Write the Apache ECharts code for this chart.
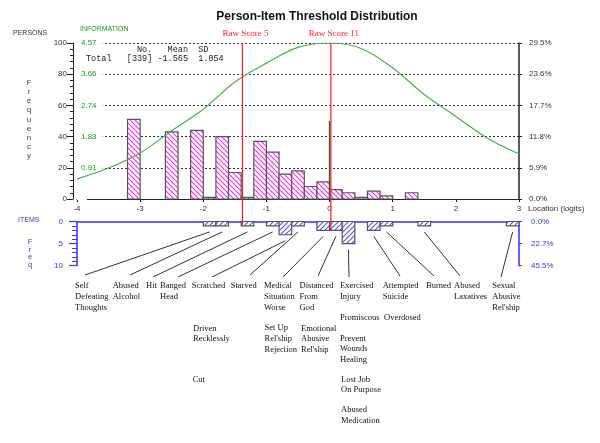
<!DOCTYPE html>
<html><head><meta charset="utf-8">
<script src="https://cdn.jsdelivr.net/npm/echarts@6/dist/echarts.min.js"></script>
<style>html,body{margin:0;padding:0;background:#fff}#c{width:600px;height:443px}</style>
</head><body><div id="c"></div>
<script>
// ---------- data ----------
const personBinCenters = [-3.1,-2.5,-2.1,-1.9,-1.7,-1.5,-1.3,-1.1,-0.9,-0.7,-0.5,-0.3,-0.1,0.1,0.3,0.5,0.7,0.9,1.3];
const personCounts     = [51,43,44,1,40,17,1,37,30,16,18,8,11,6,4,1,5,2,4];
const binWidth = 0.2;
const infoLocations = [-4,-3.5,-3,-2.5,-2,-1.5,-1,-0.5,0,0.5,1,1.5,2,2.5,3];
const infoValues    = [0.59,0.91,1.35,2.0,2.63,3.43,3.98,4.44,4.57,4.41,3.84,3.06,2.42,1.78,1.32];
const itemBinCenters = [-1.9,-1.7,-1.3,-0.9,-0.7,-0.5,-0.1,0.1,0.3,0.7,0.9,1.5,2.9];
const itemCounts     = [1,1,1,1,3,1,2,2,5,2,1,1,1];
const itemNames = [
  ["Self\nDefeating\nThoughts"], ["Abused\nAlcohol"], ["Hit"], ["Banged\nHead"],
  ["Scratched","Driven\nRecklessly","Cut"], ["Starved"],
  ["Medical\nSituation\nWorse","Set Up\nRel'ship\nRejection"],
  ["Distanced\nFrom\nGod","Emotional\nAbusive\nRel'ship"],
  ["Exercised\nInjury","Promiscous","Prevent\nWounds\nHealing","Lost Job\nOn Purpose","Abused\nMedication"],
  ["Attempted\nSuicide","Overdosed"], ["Burned"], ["Abused\nLaxatives"], ["Sexual\nAbusive\nRel'ship"]
];
const rawScoreLogits = [-1.38, 0.02];
const rawScoreLabels = ["Raw Score 5", "Raw Score 11"];
const markerLocation = 0, markerHeight = 50;
const infoTickLabels  = ["", "0.91", "1.83", "2.74", "3.66", "4.57"];
const personPctLabels = ["0.0%", "5.9%", "11.8%", "17.7%", "23.6%", "29.5%"];
const itemPctLabels   = ["0.0%", "22.7%", "45.5%"];
const statsHeader = "          No.   Mean  SD";
const statsRow    = "Total   [339] -1.565  1.054";

// ---------- layout (pixels) ----------
const labelPos = [
  [[75,286]], [[112.7,286]], [[146,286]], [[160,286]],
  [[191.7,286],[193,328.3],[192.7,379.3]], [[230.7,286]],
  [[264,286],[264.5,328]], [[299.5,286],[301,328.5]],
  [[340,286],[340,317.7],[340,338.3],[341,379.3],[341,410]],
  [[382.7,286],[384,317.7]], [[426,286]], [[454,286]], [[492.3,286]]
];
const leaderEnd = [[85,275],[130,275],[153,277],[178,277],[212,277],[250,275],[283,277],[318,276],[349,277],[400,276],[434,276],[460,276],[501,277]];

const SANS = "'Liberation Sans', Arial, sans-serif";
const SERIF = "'Liberation Serif', 'Times New Roman', serif";
const MONO = "'Liberation Mono', 'Courier New', monospace";
const BLUE = '#3333ff', GREEN = '#1a9a1a';

function hatch(color, dir) {
  const s = 5, c = document.createElement('canvas'); c.width = s; c.height = s;
  const g = c.getContext('2d'); g.fillStyle = '#fff'; g.fillRect(0,0,s,s);
  g.strokeStyle = color; g.lineWidth = 1.1; g.beginPath();
  for (const k of [-s,0,s]) {
    if (dir === '\\') { g.moveTo(k,0); g.lineTo(k+s,s); } else { g.moveTo(k,s); g.lineTo(k+s,0); }
  }
  g.stroke(); return c;
}
const pinkHatch = hatch('#ff22ff','\\');
const blueHatch = hatch('#5050ff','/');
function binRender(pattern) {
  return function(params, api) {
    const c = api.value(0), v = api.value(1);
    const a = api.coord([c - binWidth/2, v]);
    const b = api.coord([c + binWidth/2, 0]);
    return { type:'rect', shape:{ x:a[0], y:Math.min(a[1],b[1]), width:b[0]-a[0], height:Math.abs(b[1]-a[1]) },
      style:{ fill:{ image:pattern, repeat:'repeat' }, stroke:'#555', lineWidth:1.2 } };
  };
}

const chart = echarts.init(document.getElementById('c'));
chart.setOption({
  animation:false,
  grid:[{left:77, right:81, top:43, height:156}, {left:77, right:81, top:221.5, height:44.2}],
  xAxis:[
    {gridIndex:0, type:'value', min:-4, max:3, interval:1,
     axisLine:{onZero:false, lineStyle:{color:'#222', width:1}}, axisTick:{length:3, lineStyle:{color:'#222'}},
     axisLabel:{fontSize:8, color:'#333', margin:6, fontFamily:SANS}, splitLine:{show:false}},
    {gridIndex:1, type:'value', min:-4, max:3, interval:1, position:'top',
     axisLine:{onZero:false, lineStyle:{color:BLUE, width:1.5}}, axisTick:{show:false}, axisLabel:{show:false}, splitLine:{show:false}}
  ],
  yAxis:[
    {gridIndex:0, type:'value', min:0, max:100, interval:20, position:'left', offset:4,
     axisLine:{show:true, onZero:false, lineStyle:{color:'#222'}}, axisTick:{show:true, length:6, lineStyle:{color:'#222'}},
     minorTick:{show:true, splitNumber:5, length:3, lineStyle:{color:'#222'}},
     axisLabel:{fontSize:8, color:'#333', margin:6, fontFamily:SANS},
     splitLine:{show:true, lineStyle:{color:'#333', type:[2,2], width:1}}},
    {gridIndex:0, type:'value', min:0, max:4.57, interval:0.914, position:'left',
     axisLine:{show:false, onZero:false}, axisTick:{show:false}, splitLine:{show:false},
     axisLabel:{inside:true, margin:0, fontSize:8, color:GREEN, fontFamily:SANS, backgroundColor:'#fff', padding:[1,6,1,4],
       formatter:(v)=>infoTickLabels[Math.round(v/0.914)]}},
    {gridIndex:0, type:'value', min:0, max:100, interval:20, position:'right',
     axisLine:{show:true, onZero:false, lineStyle:{color:'#222', width:1.5}}, axisTick:{show:true, length:3, lineStyle:{color:'#222'}},
     axisLabel:{margin:10, fontSize:8, color:'#333', fontFamily:SANS, formatter:(v)=>personPctLabels[Math.round(v/20)]},
     splitLine:{show:false}},
    {gridIndex:1, type:'value', min:0, max:10, interval:5, inverse:true, position:'left',
     axisLine:{show:true, onZero:false, lineStyle:{color:BLUE, width:1.5}}, axisTick:{length:8, lineStyle:{color:BLUE, width:1.2}},
     minorTick:{show:true, splitNumber:5, length:5, lineStyle:{color:BLUE}},
     axisLabel:{margin:14, fontSize:8, color:BLUE, fontFamily:SANS}, splitLine:{show:false}},
    {gridIndex:1, type:'value', min:0, max:10, interval:5, inverse:true, position:'right',
     axisLine:{show:true, onZero:false, lineStyle:{color:BLUE, width:1.5}}, axisTick:{length:3, lineStyle:{color:BLUE}},
     axisLabel:{margin:12, fontSize:8, color:BLUE, fontFamily:SANS, formatter:(v)=>itemPctLabels[Math.round(v/5)]},
     splitLine:{show:false}}
  ],
  series:[
    {type:'custom', xAxisIndex:0, yAxisIndex:0, renderItem:binRender(pinkHatch), encode:{x:0,y:1},
     data:personBinCenters.map((c,i)=>[c, personCounts[i]]), z:2},
    {type:'line', xAxisIndex:0, yAxisIndex:1, data:infoLocations.map((x,i)=>[x, infoValues[i]]),
     smooth:0.35, showSymbol:false, lineStyle:{color:'#4aae4a', width:1.2}, z:3},
    {type:'line', xAxisIndex:0, yAxisIndex:0, data:[[markerLocation,0],[markerLocation,markerHeight]],
     showSymbol:false, lineStyle:{color:'#4d5a22', width:1.5}, z:5},
    {type:'custom', xAxisIndex:1, yAxisIndex:3, renderItem:binRender(blueHatch), encode:{x:0,y:1},
     data:itemBinCenters.map((c,i)=>[c, itemCounts[i]]), z:2}
  ]
});

// ---------- annotations computed through the axes ----------
const P0 = (x,y)=>chart.convertToPixel({xAxisIndex:0, yAxisIndex:0}, [x,y]);
const P1 = (x,y)=>chart.convertToPixel({xAxisIndex:1, yAxisIndex:3}, [x,y]);
function txt(text, x, y, font, fill, align, vAlign, lh) {
  return {type:'text', silent:true, z:20, style:{text, x, y, font, fill, align:align||'left', textAlign:align||'left',
    verticalAlign:vAlign||'middle', textVerticalAlign:vAlign||'middle', lineHeight:lh||undefined}};
}
const g = [];
g.push(txt('Person-Item Threshold Distribution', 317, 17, 'bold 12px '+SANS, '#111', 'center'));
g.push(txt('PERSONS', 13, 33, '7px '+SANS, '#333'));
g.push(txt('INFORMATION', 80, 29, '7px '+SANS, GREEN));
g.push({type:'text', silent:true, z:20, style:{text:statsHeader, x:86, y:50, font:'8.5px '+MONO, fill:'#222', verticalAlign:'middle', textVerticalAlign:'middle'}});
g.push({type:'text', silent:true, z:20, style:{text:statsRow, x:86, y:59, font:'8.5px '+MONO, fill:'#222', verticalAlign:'middle', textVerticalAlign:'middle'}});
g.push(txt('F\nr\ne\nq\nu\ne\nn\nc\ny', 29, 78, '8px '+SANS, '#444', 'center', 'top', 9.2));
g.push(txt('ITEMS', 18, 220, '7px '+SANS, BLUE));
g.push(txt('F\nr\ne\nq', 30, 238, '7.5px '+SANS, BLUE, 'center', 'top', 7.7));
g.push(txt('Location (logits)', 528, 209, '8px '+SANS, '#333'));

// raw score lines
rawScoreLogits.forEach((r,i)=>{
  const top = P0(r, 100);
  let cnt = 0;
  itemBinCenters.forEach((c,j)=>{ if (r >= c-binWidth/2 && r < c+binWidth/2) cnt = itemCounts[j]; });
  const bot = P1(r, cnt);
  g.push({type:'line', silent:true, z:15, shape:{x1:top[0], y1:top[1], x2:bot[0], y2:bot[1]}, style:{stroke:'#ff2020', lineWidth:1.2}});
  g.push(txt(rawScoreLabels[i], top[0]+3, 34, '9px '+SERIF, '#ff2020', 'center'));
});

// leader lines + item labels
itemBinCenters.forEach((c,j)=>{
  const b = P1(c, itemCounts[j]);
  g.push({type:'line', silent:true, z:10, shape:{x1:b[0], y1:b[1]+6, x2:leaderEnd[j][0], y2:leaderEnd[j][1]}, style:{stroke:'#333', lineWidth:1}});
  itemNames[j].forEach((name,k)=>{
    const p = labelPos[j][k];
    g.push(txt(name, p[0], p[1]-5.35, '8.5px '+SERIF, '#111', 'left', 'top', 10.7));
  });
});
chart.setOption({graphic: g});
</script>
</body></html>
